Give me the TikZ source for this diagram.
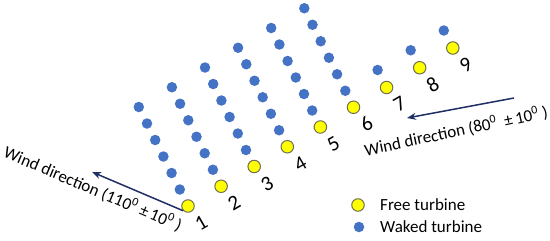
\documentclass[tikz,border=0pt]{standalone}
\usepackage{fontspec}
\setmainfont{Carlito}
\definecolor{turbineblue}{RGB}{68,114,196}
\definecolor{turbineyellow}{RGB}{255,255,0}
\definecolor{rimgray}{RGB}{112,112,80}
\definecolor{winddarkblue}{RGB}{31,46,100}
\usetikzlibrary{arrows.meta}

\begin{document}
\begin{tikzpicture}[x=1pt, y=-1pt,
    free/.style={circle, fill=turbineyellow, draw=rimgray, line width=1pt, minimum size=12.5pt, inner sep=0pt},
    waked/.style={circle, fill=turbineblue, minimum size=10.5pt, inner sep=0pt},
    number/.style={font=\fontsize{21}{21}\selectfont, rotate=30, inner sep=0pt},
    windtext/.style={font=\fontsize{17}{17}\selectfont, inner sep=0pt},
    windarrow/.style={draw=winddarkblue, line width=1.5pt, -{Stealth[length=9pt,width=7pt]}}]

    % Frame
    \useasboundingbox (0,0) rectangle (550,241);

    % Free turbines with their numbers
    \foreach \i in {1,...,9} {
        \pgfmathsetmacro{\px}{188+33.1*(\i-1)}
        \pgfmathsetmacro{\py}{206-19.75*(\i-1)}
        \node[free] (free\i) at (\px,\py) {};
        \node[number] (num\i) at (\px+13,\py+17) {\i};
    }

    % Waked turbines behind rows 1-6
    \foreach \i in {1,...,6}
        \foreach \k in {1,...,6}
            \node[waked] (waked\i-\k) at ([shift={(-8.2*\k,-16.5*\k)}]free\i) {};

    % Waked turbines behind rows 7-9
    \foreach \i in {7,8,9}
        \node[waked] (waked\i-1) at ([shift={(-9,-17.5)}]free\i) {};

    % Wind direction 110
    \coordinate (windtip1) at (92,172);
    \draw[windarrow] (free1.south west) -- (windtip1);
    \node[windtext, rotate=-23] (wind1) at (93,189) {Wind direction (110\textsuperscript{0} ±\,10\textsuperscript{0} )};

    % Wind direction 80
    \coordinate (windtail2) at (514,98);
    \coordinate (windtip2) at (407,118);
    \draw[windarrow] (windtail2) -- (windtip2);
    \node[windtext, rotate=12] (wind2) at (456,131) {Wind direction (80\textsuperscript{0}\ \ ±\,10\textsuperscript{0} )};

    % Legend
    \node[free] (legendfree) at (358,205) {};
    \node[windtext, anchor=west] (legendfreetext) at (380,205) {Free turbine};
    \node[waked] (legendwaked) at (359,227) {};
    \node[windtext, anchor=west] (legendwakedtext) at (380,227) {Waked turbine};
\end{tikzpicture}
\end{document}
